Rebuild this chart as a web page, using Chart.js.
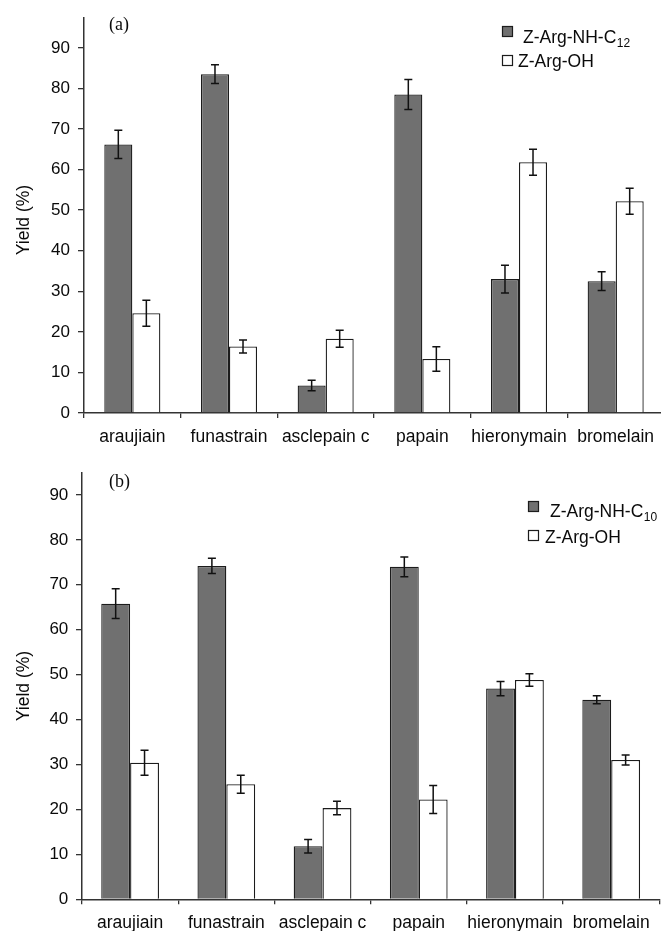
<!DOCTYPE html>
<html>
<head>
<meta charset="utf-8">
<script src="https://cdn.jsdelivr.net/npm/chart.js@4.4.1/dist/chart.umd.min.js"></script>
<style>
  html, body { margin: 0; padding: 0; background: #fff; width: 661px; height: 931px; overflow: hidden; position: relative; }
  canvas { position: absolute; left: 0; }
  #c1 { top: 0; }
  #c2 { top: 455px; }
</style>
</head>
<body>
<canvas id="c1" width="670" height="460"></canvas>
<canvas id="c2" width="661" height="476"></canvas>
<script>
// ---- data ----
const categories = ['araujiain', 'funastrain', 'asclepain c', 'papain', 'hieronymain', 'bromelain'];
const yTicks = [0, 10, 20, 30, 40, 50, 60, 70, 80, 90];

// panel (a)
const aC12    = [66.2, 83.5, 6.8, 78.5, 33.0, 32.5];
const aC12Err = [3.5, 2.3, 1.3, 3.7, 3.4, 2.3];
const aOH     = [24.6, 16.4, 18.3, 13.3, 61.8, 52.2];
const aOHErr  = [3.2, 1.6, 2.1, 3.0, 3.2, 3.2];

// panel (b)
const bC10    = [65.8, 74.2, 11.8, 74.0, 46.9, 44.4];
const bC10Err = [3.3, 1.7, 1.5, 2.2, 1.6, 0.9];
const bOH     = [30.4, 25.6, 20.3, 22.2, 48.8, 31.0];
const bOHErr  = [2.8, 2.0, 1.5, 3.1, 1.4, 1.1];

const SANS = "'Liberation Sans', Arial, sans-serif";
const SERIF = "'Liberation Serif', 'Times New Roman', serif";
const DARK = '#707070';
const EDGE = '#1c1c1c';
const AXIS = '#333';
const TXT = '#0a0a0a';

const errorBars = {
  id: 'errorBars',
  afterDatasetsDraw(chart) {
    const ctx = chart.ctx;
    const y = chart.scales.y;
    ctx.save();
    ctx.strokeStyle = '#111';
    ctx.lineWidth = 1.5;
    chart.data.datasets.forEach((ds, i) => {
      const meta = chart.getDatasetMeta(i);
      meta.data.forEach((bar, j) => {
        const v = ds.data[j], e = ds.err[j];
        const yt = y.getPixelForValue(v + e), yb = y.getPixelForValue(v - e);
        const x = bar.x, cw = 4;
        ctx.beginPath();
        ctx.moveTo(x, yt); ctx.lineTo(x, yb);
        ctx.moveTo(x - cw, yt); ctx.lineTo(x + cw, yt);
        ctx.moveTo(x - cw, yb); ctx.lineTo(x + cw, yb);
        ctx.stroke();
      });
    });
    ctx.restore();
  }
};

const annotations = {
  id: 'annotations',
  afterDraw(chart, args, opts) {
    const ctx = chart.ctx;
    ctx.save();
    ctx.fillStyle = TXT;
    // panel letter
    ctx.font = '18px ' + SERIF;
    ctx.textAlign = 'left';
    ctx.textBaseline = 'alphabetic';
    ctx.fillText(opts.letter, opts.letterX, opts.letterY);
    // y title
    ctx.save();
    ctx.translate(opts.titleX, opts.titleY);
    ctx.rotate(-Math.PI / 2);
    ctx.font = '17.5px ' + SANS;
    ctx.textAlign = 'center';
    ctx.textBaseline = 'middle';
    ctx.fillText('Yield (%)', 0, 0);
    ctx.restore();
    // legend
    const L = opts.legend;
    ctx.lineWidth = 1.2;
    ctx.strokeStyle = EDGE;
    // item 1
    ctx.fillStyle = DARK;
    ctx.fillRect(L.sq1x, L.sq1y, 10, 10);
    ctx.strokeRect(L.sq1x + 0.5, L.sq1y + 0.5, 10, 10);
    ctx.fillStyle = TXT;
    ctx.font = '17.5px ' + SANS;
    ctx.textAlign = 'left';
    ctx.textBaseline = 'alphabetic';
    ctx.fillText(L.main1, L.t1x, L.t1y);
    const w = ctx.measureText(L.main1).width;
    ctx.font = '12px ' + SANS;
    ctx.fillText(L.sub1, L.t1x + w + 0.5, L.t1y + 4);
    // item 2
    ctx.fillStyle = '#fff';
    ctx.fillRect(L.sq2x, L.sq2y, 10, 10);
    ctx.strokeRect(L.sq2x + 0.5, L.sq2y + 0.5, 10, 10);
    ctx.fillStyle = TXT;
    ctx.font = '17.5px ' + SANS;
    ctx.fillText(L.main2, L.t2x, L.t2y);
    ctx.restore();
  }
};

function makeChart(id, d1, e1, d2, e2, cfg) {
  return new Chart(document.getElementById(id), {
    type: 'bar',
    data: {
      labels: categories,
      datasets: [
        { data: d1, err: e1, backgroundColor: DARK, borderColor: EDGE, borderWidth: 1.3,
          barPercentage: 1, categoryPercentage: cfg.catPct },
        { data: d2, err: e2, backgroundColor: '#ffffff', borderColor: EDGE, borderWidth: 1.3,
          barPercentage: 1, categoryPercentage: cfg.catPct }
      ]
    },
    options: {
      responsive: false,
      animation: false,
      devicePixelRatio: 1,
      layout: { padding: { top: cfg.padTop, right: cfg.padRight, left: 0, bottom: 0 } },
      plugins: {
        legend: { display: false },
        tooltip: { enabled: false },
        annotations: cfg.ann
      },
      scales: {
        x: {
          grid: { display: true, drawOnChartArea: false, drawTicks: true, tickLength: 5, color: AXIS, lineWidth: 1.3, offset: true },
          border: { display: true, color: AXIS, width: 1.5 },
          ticks: { color: TXT, font: { family: SANS, size: 17.5, lineHeight: 1.2 }, padding: cfg.xPad, maxRotation: 0, autoSkip: false },
          afterFit(scale) { scale.height = cfg.xHeight; }
        },
        y: {
          min: 0, max: cfg.yMax,
          grid: { display: true, drawOnChartArea: false, drawTicks: true, tickLength: 6, color: AXIS, lineWidth: 1.3 },
          border: { display: true, color: AXIS, width: 1.5 },
          ticks: { stepSize: 10, color: TXT, font: { family: SANS, size: 17 }, padding: cfg.yPad },
          afterBuildTicks(scale) { scale.ticks = yTicks.map(v => ({ value: v })); },
          afterFit(scale) { scale.width = cfg.yWidth; }
        }
      }
    },
    plugins: [errorBars, annotations]
  });
}

makeChart('c1', aC12, aC12Err, aOH, aOHErr, {
  catPct: 0.58, padTop: 14, padRight: 6, yMax: 97.3, xHeight: 47, xPad: 9, yPad: 8, yWidth: 84,
  ann: {
    letter: '(a)', letterX: 109, letterY: 30, titleX: 24, titleY: 220,
    legend: { sq1x: 502, sq1y: 26, t1x: 523, t1y: 43, main1: 'Z-Arg-NH-C', sub1: '12',
              sq2x: 502, sq2y: 55, t2x: 518, t2y: 67, main2: 'Z-Arg-OH' }
  }
});

makeChart('c2', bC10, bC10Err, bOH, bOHErr, {
  catPct: 0.60, padTop: 14.3, padRight: 1.7, yMax: 94.9, xHeight: 31.7, xPad: 8, yPad: 7.7, yWidth: 82,
  ann: {
    letter: '(b)', letterX: 109, letterY: 487 - 455, titleX: 24, titleY: 686 - 455,
    legend: { sq1x: 528, sq1y: 501 - 455, t1x: 550, t1y: 516.5 - 455, main1: 'Z-Arg-NH-C', sub1: '10',
              sq2x: 528, sq2y: 530 - 455, t2x: 545, t2y: 543 - 455, main2: 'Z-Arg-OH' }
  }
});
</script>
</body>
</html>
